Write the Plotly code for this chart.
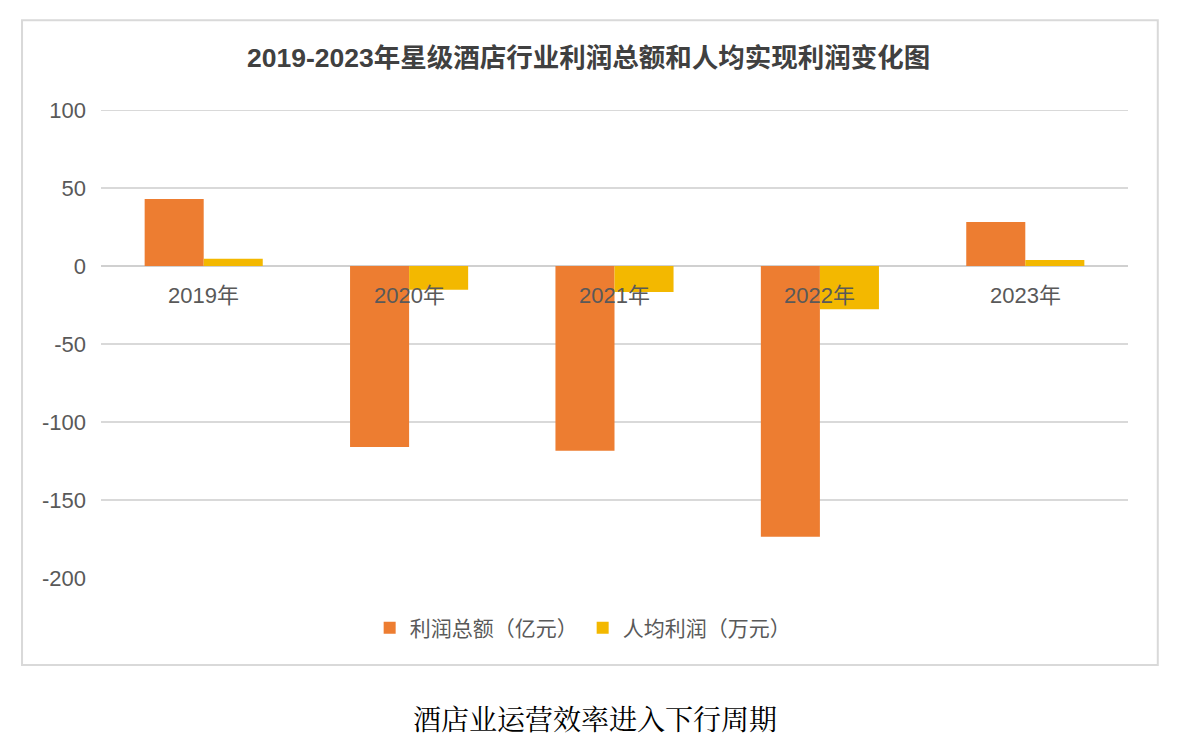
import plotly.graph_objects as go

years = ["2019年", "2020年", "2021年", "2022年", "2023年"]
profit_total = [43, -116, -118.5, -173.5, 28.2]   # 利润总额（亿元）
profit_per_head = [4.6, -15.3, -16.6, -27.7, 3.9]  # 人均利润（万元）
y_ticks = [100, 50, 0, -50, -100, -150, -200]
y_tick_text = ["100", "50", "0", "-50", "-100", "-150", "-200"]

font_main = "Liberation Sans, Noto Sans CJK SC, sans-serif"
grey_text = "#595959"
grid = "#D9D9D9"

fig = go.Figure()
fig.add_bar(x=years, y=profit_total, name="利润总额（亿元）", marker_color="#ED7D31",
            marker_line_width=0)
fig.add_bar(x=years, y=profit_per_head, name="人均利润（万元）", marker_color="#F3B800",
            marker_line_width=0)

# category labels sit on the zero line
for yr in years:
    fig.add_annotation(x=yr, y=0, text=yr, showarrow=False, yanchor="top", yshift=-15,
                       font=dict(size=22, color=grey_text, family=font_main))

# top gridline (plotly skips it at the range edge)
fig.add_shape(type="line", xref="paper", yref="y", x0=0, x1=1, y0=100, y1=100,
              line=dict(color=grid, width=2), layer="below")

# outer frame around the chart
fig.add_shape(type="rect", xref="paper", yref="paper", x0=-0.0769, x1=1.029,
              y0=-0.186, y1=1.192, line=dict(color=grid, width=2), layer="below")

fig.add_annotation(text="酒店业运营效率进入下行周期", xref="paper", yref="paper",
                   x=0.481, y=-0.299, showarrow=False, yanchor="middle",
                   font=dict(size=28, color="#000000",
                             family="Noto Serif CJK SC, Noto Sans CJK SC, serif"))

fig.update_layout(
    width=1190, height=754,
    margin=dict(l=93, r=70, t=102, b=184),
    paper_bgcolor="white", plot_bgcolor="white",
    title=dict(text="<b>2019-2023年星级酒店行业利润总额和人均实现利润变化图</b>",
               x=0.488, xanchor="center", y=0.934, yanchor="middle",
               font=dict(size=26.5, color="#404040", family=font_main)),
    barmode="group", bargap=0.425, bargroupgap=0,
    font=dict(family=font_main, color=grey_text, size=20),
    legend=dict(orientation="h", x=0.469, xanchor="center", y=-0.107, yanchor="middle",
                font=dict(size=21, color=grey_text), itemwidth=30,
                traceorder="normal"),
    showlegend=True,
)
fig.update_xaxes(showticklabels=False, showgrid=False, zeroline=False, showline=False)
fig.update_yaxes(range=[-200, 100], tickvals=y_ticks, ticktext=y_tick_text,
                 showgrid=True, gridcolor=grid, gridwidth=2,
                 zeroline=True, zerolinecolor="#D0D0D0", zerolinewidth=2,
                 showline=False, ticks="", ticklabelstandoff=14,
                 tickfont=dict(size=22, color=grey_text))

fig.write_html("out.html")
